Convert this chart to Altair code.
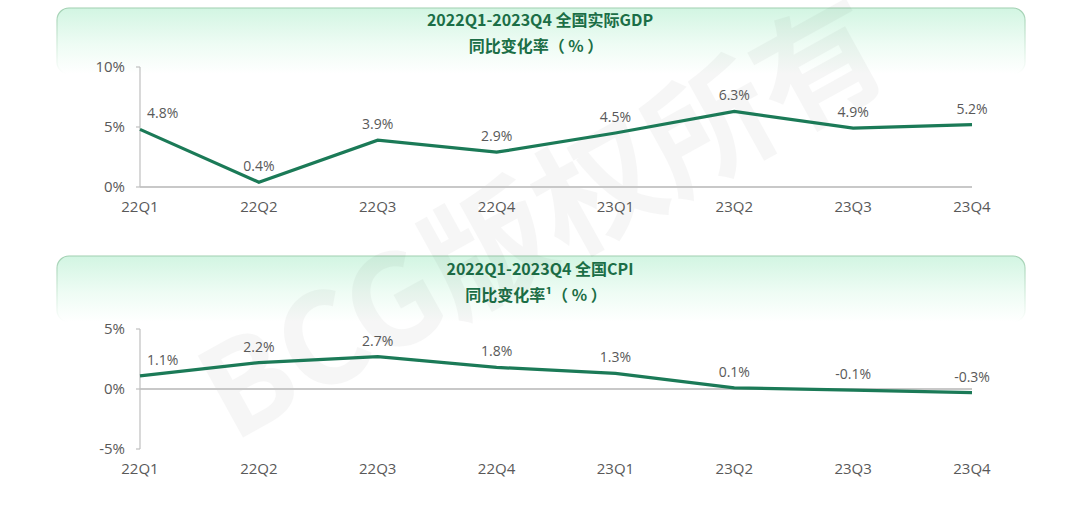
import altair as alt
import pandas as pd

quarters = ["22Q1", "22Q2", "22Q3", "22Q4", "23Q1", "23Q2", "23Q3", "23Q4"]
gdp = [4.8, 0.4, 3.9, 2.9, 4.5, 6.3, 4.9, 5.2]
cpi = [1.1, 2.2, 2.7, 1.8, 1.3, 0.1, -0.1, -0.3]
gdp_ticks = [0, 5, 10]
cpi_ticks = [-5, 0, 5]
title_gdp = ["2022Q1-2023Q4 全国实际GDP", "同比变化率（ % ）"]
title_cpi = ["2022Q1-2023Q4 全国CPI", "同比变化率¹（ % ）"]
watermark = "BCG版权所有"

W, H = 1080, 511
LINE = "#1b7a57"
GRAY = "#595959"
AXIS = "#bfbfbf"
BASE = "#c8c8c8"
TITLE = "#1b6e46"
FONT = "Open Sans"
CJK = "Noto Sans CJK SC"

df = pd.DataFrame({
    "q": quarters,
    "gdp": gdp,
    "cpi": cpi,
    "gdp_lbl": [f"{v}%" for v in gdp],
    "cpi_lbl": [f"{v}%" for v in cpi],
    "idx": list(range(len(quarters))),
})

X_RANGE = [140, 972]
GDP_RANGE = [187, 67]
CPI_RANGE = [449, 329]


def xscale():
    return alt.Scale(type="point", domain=quarters, range=X_RANGE, padding=0)


def panel(field, lbl, yrange, ydomain, ticks, xlabel_y):
    ys = alt.Scale(domain=ydomain, range=yrange, nice=False, zero=False)
    base = alt.Chart(df)
    X = alt.X("q:N", scale=xscale(), axis=None, sort=quarters)
    Y = alt.Y(f"{field}:Q", scale=ys, axis=None)

    tick_df = pd.DataFrame({"v": ticks, "t": [f"{t}%" for t in ticks]})
    ydom = alt.Chart(pd.DataFrame({"lo": [ydomain[0]], "hi": [ydomain[1]]})).mark_rule(
        color=AXIS, strokeWidth=1.2
    ).encode(x=alt.value(X_RANGE[0]), y=alt.Y("lo:Q", scale=ys, axis=None), y2="hi:Q")
    yticks = alt.Chart(tick_df).mark_rule(color=AXIS, strokeWidth=1.2).encode(
        x=alt.value(X_RANGE[0] - 4), x2=alt.value(X_RANGE[0]),
        y=alt.Y("v:Q", scale=ys, axis=None))
    ylabels = alt.Chart(tick_df).mark_text(
        align="right", baseline="middle", fontSize=15, color=GRAY, font=FONT
    ).encode(x=alt.value(X_RANGE[0] - 15), y=alt.Y("v:Q", scale=ys, axis=None), text="t:N")

    zero = alt.Chart(pd.DataFrame({"a": [quarters[0]], "b": [quarters[-1]], "z": [0]})).mark_rule(
        color=BASE, strokeWidth=1.8
    ).encode(
        x=alt.X("a:N", scale=xscale(), axis=None),
        x2="b:N",
        y=alt.Y("z:Q", scale=ys, axis=None),
    )
    xlabels = base.mark_text(baseline="middle", fontSize=15, color=GRAY, font=FONT).encode(
        x=X, y=alt.value(xlabel_y), text="q:N")

    line = base.mark_line(color=LINE, strokeWidth=3.2).encode(x=X, y=Y)
    first = base.transform_filter("datum.idx == 0").mark_text(
        align="left", dx=7, dy=-15, fontSize=14, color=GRAY, font=FONT
    ).encode(x=X, y=Y, text=f"{lbl}:N")
    rest = base.transform_filter("datum.idx > 0").mark_text(
        align="center", dy=-15, fontSize=14, color=GRAY, font=FONT
    ).encode(x=X, y=Y, text=f"{lbl}:N")
    return alt.layer(zero, ydom, yticks, ylabels, xlabels, line, first, rest)


grad_fill = alt.LinearGradient(
    gradient="linear",
    stops=[alt.GradientStop(color="#d2f5e2", offset=0),
           alt.GradientStop(color="#eefcf4", offset=0.55),
           alt.GradientStop(color="#ffffff", offset=1)],
    x1=0, x2=0, y1=0, y2=1,
)
grad_stroke = alt.LinearGradient(
    gradient="linear",
    stops=[alt.GradientStop(color="#9fcfb0", offset=0),
           alt.GradientStop(color="#d8efe0", offset=0.6),
           alt.GradientStop(color="#ffffff", offset=1)],
    x1=0, x2=0, y1=0, y2=1,
)

one = pd.DataFrame({"k": [0]})


def header(y0, y1, lines, ty):
    box = alt.Chart(one).mark_rect(fill=grad_fill, stroke=grad_stroke, strokeWidth=1.2,
                                   cornerRadius=12).encode(
        x=alt.value(57), x2=alt.value(1025), y=alt.value(y0), y2=alt.value(y1)
    )
    t1 = alt.Chart(one).mark_text(fontSize=16, fontWeight="bold", color=TITLE, font=CJK,
                                  align="center", baseline="middle").encode(
        x=alt.value(540), y=alt.value(ty[0]), text=alt.value(lines[0]))
    t2 = alt.Chart(one).mark_text(fontSize=16, fontWeight="bold", color=TITLE, font=CJK,
                                  align="center", baseline="middle").encode(
        x=alt.value(536), y=alt.value(ty[1]), text=alt.value(lines[1]))
    return [box, t1, t2]


wm = alt.Chart(one).mark_text(fontSize=126, fontWeight="bold", color="#000000", opacity=0.03,
                              font=CJK, angle=331, align="center", baseline="middle").encode(
    x=alt.value(546), y=alt.value(226), text=alt.value(watermark))

top = panel("gdp", "gdp_lbl", GDP_RANGE, [0, 10], gdp_ticks, 207)
bottom = panel("cpi", "cpi_lbl", CPI_RANGE, [-5, 5], cpi_ticks, 469)

decor = header(8, 74, title_gdp, [21, 47]) + header(256, 322, title_cpi, [270, 296]) + [wm]

chart = alt.layer(*decor, top, bottom).resolve_scale(
    x="independent", y="independent"
).properties(
    width=W, height=H, autosize=alt.AutoSizeParams(type="none"), padding=0,
    background="#ffffff"
).configure_view(strokeWidth=0)

chart.save("out.html", embed_options={"renderer": "svg", "actions": False})
